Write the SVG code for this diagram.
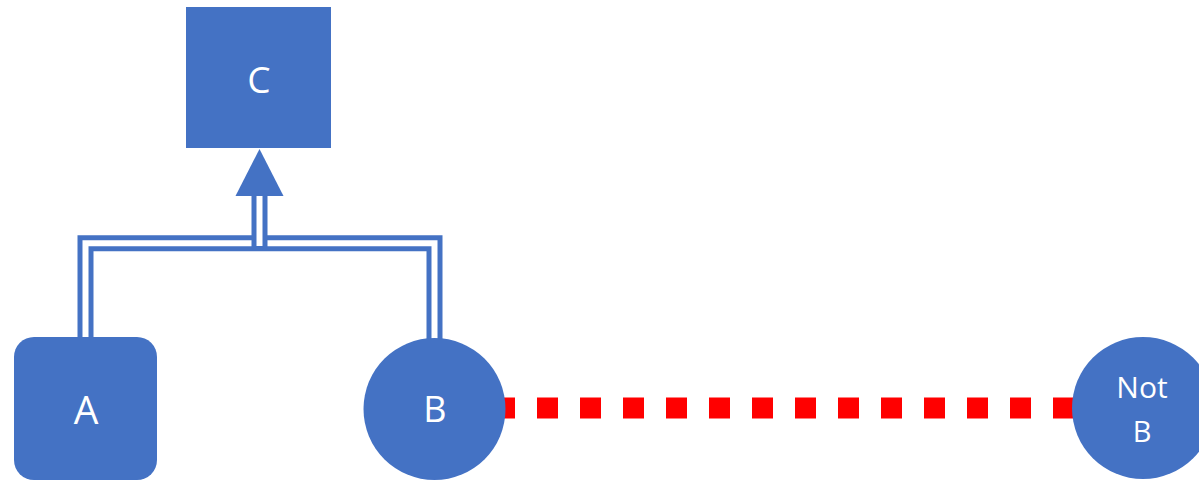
<svg xmlns="http://www.w3.org/2000/svg" width="1199" height="481" viewBox="0 0 1199 481">
<style>
.node{fill:#4472C4}
.lbl{fill:#FFFFFF;font-family:"Open Sans","Noto Sans",sans-serif;text-anchor:middle}
.dbl-out{fill:none;stroke:#4472C4;stroke-width:16}
.dbl-in{fill:none;stroke:#FFFFFF;stroke-width:6}
</style>
<rect width="1199" height="481" fill="#FFFFFF"/>
<g id="connectors">
<path class="dbl-out" d="M85.5,338 V243.2 H434.5 V339"/>
<path class="dbl-in" d="M85.5,338 V243.2 H434.5 V339"/>
<path class="dbl-out" d="M259.5,251 V195" stroke-width="15.6"/>
<path class="dbl-in" d="M259.5,246 V194" stroke-width="5.6"/>
<polygon class="node" points="259.5,149 235.5,196 283.5,196"/>
<line x1="494" y1="408" x2="1075" y2="408" stroke="#FF0000" stroke-width="21" stroke-dasharray="21 22"/>
</g>
<g id="C">
<rect class="node" x="186" y="7" width="145" height="141"/>
<text class="lbl" x="259" y="93" font-size="37">C</text>
</g>
<g id="A">
<rect class="node" x="14" y="337" width="143" height="143" rx="20"/>
<text class="lbl" x="86" y="424" font-size="39">A</text>
</g>
<g id="B">
<circle class="node" cx="434.5" cy="409" r="71"/>
<text class="lbl" x="435" y="422" font-size="36">B</text>
</g>
<g id="NotB">
<circle class="node" cx="1143" cy="408" r="71"/>
<text class="lbl" x="1142" y="398" font-size="30">Not</text>
<text class="lbl" x="1142" y="442" font-size="29">B</text>
</g>
</svg>
